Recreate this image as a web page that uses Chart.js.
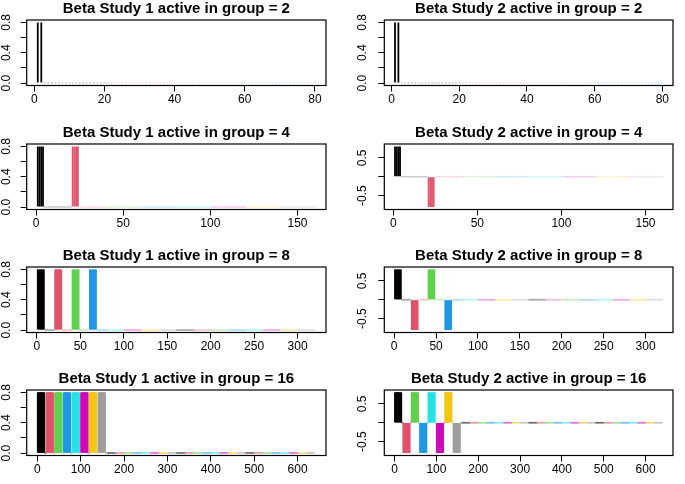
<!DOCTYPE html>
<html>
<head>
<meta charset="utf-8">
<title>Beta Study active in group</title>
<script src="https://cdn.jsdelivr.net/npm/chart.js@4.4.0/dist/chart.umd.min.js"></script>
<style>
  body { margin: 0; background: #fff; }
  #wrap { position: relative; width: 685px; height: 484px; overflow: hidden; background: #fff; }
  #wrap canvas { position: absolute; }
</style>
</head>
<body>
<div id="wrap"></div>
<script>
// --- Values ---
const groupSizes = [2, 4, 8, 16];
const vectorLengths = [80, 160, 320, 640];
// first index of each active group
const activeStarts = [
    [1],
    [1, 21],
    [1, 21, 41, 61],
    [1, 21, 41, 61, 81, 101, 121, 141]
];
const study1Values = [
    [0.8],
    [0.8, 0.8],
    [0.8, 0.8, 0.8, 0.8],
    [0.8, 0.8, 0.8, 0.8, 0.8, 0.8, 0.8, 0.8]
];
const study2Values = [
    [0.8],
    [0.8, -0.8],
    [0.8, -0.8, 0.8, -0.8],
    [0.8, -0.8, 0.8, -0.8, 0.8, -0.8, 0.8, -0.8]
];
const xTickValues = [
    [0, 20, 40, 60, 80],
    [0, 50, 100, 150],
    [0, 50, 100, 150, 200, 250, 300],
    [0, 100, 200, 300, 400, 500, 600]
];
const yTicksPositive = [0, 0.2, 0.4, 0.6, 0.8];
const yLabelsPositive = ['0.0', '', '0.4', '', '0.8'];
const yTicksSigned = [-0.5, 0, 0.5];
const yLabelsSigned = ['-0.5', '', '0.5'];
// colour changes every 20 coefficients, R's default palette
const colorBlock = 20;
const palette = ['#000000', '#DF536B', '#61D04F', '#2297E6', '#28E2E5', '#CD0BBC', '#F5C710', '#9E9E9E'];

// --- Layout (pixels) ---
const fontFamily = '"Liberation Sans", Arial, sans-serif';
const rowBoxTop = [20, 144.3, 267, 390.3];
const boxHeight = 65.5;
const canvasHeight = 114;
const columns = [
    { left: 0, width: 342, boxLeft: 26.7, boxRight: 326, labelOffset: 20.5 },
    { left: 342, width: 343, boxLeft: 42.3, boxRight: 331, labelOffset: 21.5 }
];
const tickLen = 6;

const measureCtx = document.createElement('canvas').getContext('2d');
measureCtx.font = '12px ' + fontFamily;
const widestLabel = labels => Math.max(...labels.map(l => measureCtx.measureText(l).width));

// full coefficient vector from the active groups
const buildVector = (row, values) => {
    const out = [];
    for (let i = 1; i <= vectorLengths[row]; i++) {
        let v = 0;
        activeStarts[row].forEach((s, k) => {
            if (i >= s && i < s + groupSizes[row]) v = values[k];
        });
        out.push(v);
    }
    return out;
};

const colorOf = i => palette[Math.floor((i - 1) / colorBlock) % palette.length];

// box round the plot region, like R's box()
const plotBox = {
    id: 'plotBox',
    afterDraw(chart) {
        const { ctx, chartArea: a } = chart;
        ctx.save();
        ctx.strokeStyle = '#000';
        ctx.lineWidth = 1.2;
        ctx.strokeRect(a.left, a.top, a.right - a.left, a.bottom - a.top);
        ctx.restore();
    }
};

const wrap = document.getElementById('wrap');

const drawPanel = (row, col) => {
    const values = col === 0 ? study1Values[row] : study2Values[row];
    const beta = buildVector(row, values);
    const p = vectorLengths[row];
    const c = columns[col];
    const signed = beta.some(v => v < 0);
    const yTicks = signed ? yTicksSigned : yTicksPositive;
    const yLabels = signed ? yLabelsSigned : yLabelsPositive;
    const lo = Math.min(0, ...beta), hi = Math.max(0, ...beta);
    const xPad = 0.04 * (p - 1), yPad = 0.04 * (hi - lo);

    const canvas = document.createElement('canvas');
    canvas.width = c.width;
    canvas.height = canvasHeight;
    canvas.style.left = c.left + 'px';
    canvas.style.top = (rowBoxTop[row] - 20) + 'px';
    wrap.appendChild(canvas);

    const bars = beta.map((v, i) => ({ x: i + 1, y: v }));
    const zeros = beta.map((v, i) => ({ x: i + 1, y: v === 0 ? 0 : null }));

    new Chart(canvas.getContext('2d'), {
        type: 'bar',
        data: {
            datasets: [{
                data: bars,
                backgroundColor: beta.map((v, i) => colorOf(i + 1)),
                barThickness: 1.8,
                borderWidth: 0,
                inflateAmount: 0,
                grouped: false
            }, {
                type: 'line',
                data: zeros,
                showLine: false,
                pointRadius: 1,
                pointBorderWidth: 0,
                pointBackgroundColor: beta.map((v, i) => colorOf(i + 1) + '30')
            }]
        },
        options: {
            responsive: false,
            animation: false,
            devicePixelRatio: 1,
            layout: { padding: { left: 0, right: c.width - c.boxRight, top: 0, bottom: 0 } },
            plugins: {
                legend: { display: false },
                tooltip: { enabled: false },
                title: {
                    display: true,
                    fullSize: false,
                    text: 'Beta Study ' + (col + 1) + ' active in group = ' + groupSizes[row],
                    color: '#000',
                    font: { family: fontFamily, size: 15, weight: 'bold', lineHeight: 1.2 },
                    padding: { top: 0, bottom: 2 }
                }
            },
            scales: {
                x: {
                    type: 'linear',
                    min: 1 - xPad,
                    max: p + xPad,
                    offset: false,
                    afterBuildTicks: s => { s.ticks = xTickValues[row].map(v => ({ value: v })); },
                    afterFit: s => { s.height = canvasHeight - 20 - boxHeight; },
                    border: { display: false },
                    grid: { drawOnChartArea: false, offset: false, tickLength: tickLen, color: '#000', lineWidth: 1 },
                    ticks: {
                        autoSkip: false, maxRotation: 0, padding: 1, color: '#000',
                        font: { family: fontFamily, size: 12 },
                        callback: v => String(v)
                    }
                },
                y: {
                    min: lo - yPad,
                    max: hi + yPad,
                    afterBuildTicks: s => { s.ticks = yTicks.map(v => ({ value: v })); },
                    afterFit: s => { s.width = c.boxLeft; },
                    border: { display: false },
                    grid: { drawOnChartArea: false, tickLength: tickLen, color: '#000', lineWidth: 1 },
                    ticks: {
                        autoSkip: false, minRotation: 90, maxRotation: 90, crossAlign: 'center',
                        padding: c.labelOffset - tickLen - widestLabel(yLabels) / 2,
                        color: '#000',
                        font: { family: fontFamily, size: 12 },
                        callback: (v, idx) => yLabels[idx]
                    }
                }
            }
        },
        plugins: [plotBox]
    });
};

for (let row = 0; row < 4; row++) {
    drawPanel(row, 0);
    drawPanel(row, 1);
}
</script>
</body>
</html>
